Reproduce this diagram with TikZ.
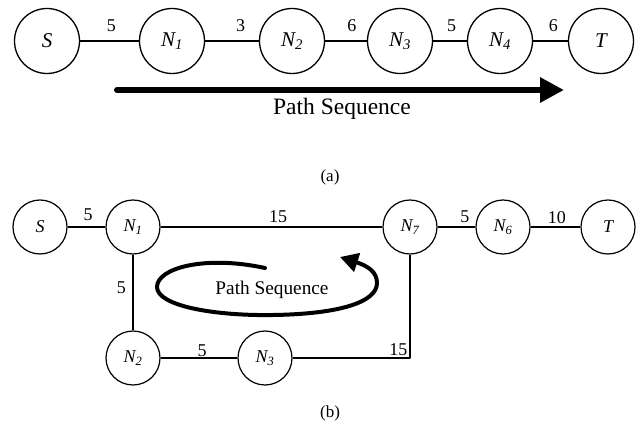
\documentclass[tikz,border=0pt]{standalone}
\usepackage{fontspec}
\setmainfont{Liberation Serif}
\usetikzlibrary{arrows.meta}
\begin{document}
\begin{tikzpicture}[x=1pt,y=1pt,line join=round,
	nodeA/.style={circle,draw,line width=1.3pt,minimum size=65pt,inner sep=0pt,font=\fontsize{21}{24}\selectfont\itshape},
	nodeB/.style={circle,draw,line width=1.2pt,minimum size=54pt,inner sep=0pt,font=\fontsize{18}{20}\selectfont\itshape},
	wt/.style={above=#1,inner sep=1pt,font=\fontsize{18}{20}\selectfont},
	wt/.default=2pt,
	edge/.style={line width=1.2pt}]
	\useasboundingbox (0,0) rectangle (643,-425);
	% (a) straight path
	\node[nodeA] (aS) at (47,-41) {S};
	\node[nodeA] (aN1) at (172,-41) {N\textsubscript{1}};
	\node[nodeA] (aN2) at (292,-41) {N\textsubscript{2}};
	\node[nodeA] (aN3) at (400,-41) {N\textsubscript{3}};
	\node[nodeA] (aN4) at (500,-41) {N\textsubscript{4}};
	\node[nodeA] (aT) at (601,-41) {T};
	\draw[edge] (aS) -- node[wt=8pt,pos=0.53] {5} (aN1);
	\draw[edge] (aN1) -- node[wt=8pt,pos=0.66] {3} (aN2);
	\draw[edge] (aN2) -- node[wt=8pt,pos=0.64] {6} (aN3);
	\draw[edge] (aN3) -- node[wt=8pt,pos=0.55] {5} (aN4);
	\draw[edge] (aN4) -- node[wt=8pt,pos=0.58] {6} (aT);
	\coordinate (aFrom) at (117,-90);
	\coordinate (aTo) at (564,-90);
	\draw[line width=6pt,line cap=round,-{Triangle[length=24pt,width=24pt]}] (aFrom) -- (aTo);
	\node[font=\fontsize{23.5}{26}\selectfont] (aSeq) at (342,-109) {Path Sequence};
	\node[font=\fontsize{17}{20}\selectfont] (aCap) at (330,-177) {(a)};
	% (b) path with a detour
	\node[nodeB] (bS) at (40,-227) {S};
	\node[nodeB] (bN1) at (133,-227) {N\textsubscript{1}};
	\node[nodeB] (bN7) at (410,-227) {N\textsubscript{7}};
	\node[nodeB] (bN6) at (503,-227) {N\textsubscript{6}};
	\node[nodeB] (bT) at (608,-227) {T};
	\node[nodeB] (bN2) at (133,-358) {N\textsubscript{2}};
	\node[nodeB] (bN3) at (265,-358) {N\textsubscript{3}};
	\draw[edge] (bS) -- node[wt=5pt,pos=0.54] {5} (bN1);
	\draw[edge] (bN1) -- node[wt=3pt,pos=0.53] {15} (bN7);
	\draw[edge] (bN7) -- node[wt=3pt,pos=0.72] {5} (bN6);
	\draw[edge] (bN6) -- node[wt=2pt,pos=0.53] {10} (bT);
	\draw[edge] (bN1) -- node[left=5.5pt,inner sep=1pt,pos=0.44,font=\fontsize{18}{20}\selectfont] {5} (bN2);
	\draw[edge] (bN2) -- node[wt=0pt,pos=0.54] {5} (bN3);
	\draw[edge] (bN3) -| node[pos=0.5,anchor=south east,inner sep=2pt,font=\fontsize{18}{20}\selectfont] {15} (bN7);
	\coordinate (bFrom) at (265,-268);
	\coordinate (bTo) at (340,-257);
	\draw[line width=4pt,line cap=round,-{Triangle[length=18pt,width=19pt]}] (bFrom)
		.. controls (205,-255) and (157,-268) .. (157,-287)
		.. controls (157,-306) and (215,-316) .. (273,-315)
		.. controls (340,-314) and (377,-302) .. (377,-283)
		.. controls (377,-272) and (368,-266) .. (bTo);
	\node[font=\fontsize{19.3}{22}\selectfont] (bSeq) at (272,-290) {Path Sequence};
	\node[font=\fontsize{17}{20}\selectfont] (bCap) at (330,-413) {(b)};
\end{tikzpicture}
\end{document}
